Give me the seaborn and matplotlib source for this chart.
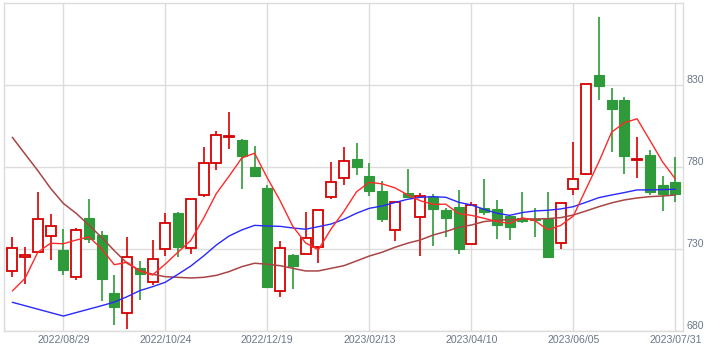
import numpy as np
import pandas as pd
import matplotlib
matplotlib.use("Agg")
import matplotlib.pyplot as plt
import seaborn as sns
from matplotlib.patches import Rectangle

# weekly candles, 2022/08/01 .. 2023/07/31
dates = pd.date_range("2022-08-01", periods=53, freq="7D")

opens = [716.6, 725.1, 728.2, 737.9, 729.6, 712.9, 749.1, 738.7, 703.4, 691.0,
         718.4, 709.9, 730.0, 752.2, 730.6, 762.9, 782.4, 798.5, 796.7, 780.0,
         767.4, 704.4, 726.5, 727.0, 731.4, 761.7, 773.3, 784.9, 774.7, 765.6,
         741.6, 764.3, 749.5, 762.1, 754.0, 755.8, 733.5, 755.0, 754.6, 750.3,
         748.9, 748.5, 748.3, 733.7, 766.6, 776.1, 836.1, 821.1, 821.1, 784.3,
         787.5, 769.2, 771.1]
highs = [737.3, 731.6, 764.8, 751.3, 742.2, 743.2, 760.5, 741.2, 714.3, 737.5,
         722.7, 735.5, 752.4, 752.5, 760.5, 792.6, 802.0, 813.5, 797.0, 793.0,
         769.0, 734.9, 727.0, 752.6, 754.0, 783.3, 792.2, 794.6, 782.4, 771.5,
         759.5, 778.8, 764.1, 763.5, 755.0, 766.2, 758.7, 772.7, 760.1, 750.5,
         764.8, 755.0, 764.8, 758.5, 795.2, 831.0, 871.5, 828.2, 823.1, 798.3,
         790.8, 774.5, 786.1]
lows = [712.9, 708.9, 727.5, 723.3, 714.1, 711.1, 733.7, 698.3, 683.7, 681.2,
        699.1, 708.0, 725.9, 725.1, 727.0, 762.0, 778.2, 791.0, 766.6, 774.3,
        707.0, 701.1, 706.0, 727.0, 721.5, 760.9, 769.2, 775.1, 762.7, 746.5,
        735.1, 762.0, 725.9, 732.0, 737.3, 727.0, 733.0, 750.9, 736.1, 735.5,
        746.3, 737.7, 725.5, 730.0, 762.9, 775.5, 821.1, 789.1, 775.7, 773.3,
        763.1, 753.2, 758.7]
closes = [730.6, 726.5, 748.3, 744.0, 717.6, 741.6, 736.5, 712.1, 695.0, 725.1,
          715.2, 723.9, 745.9, 731.6, 760.5, 782.4, 799.5, 798.9, 787.1, 774.9,
          707.2, 730.6, 720.0, 736.7, 753.8, 770.9, 783.7, 780.4, 765.8, 748.7,
          758.9, 762.1, 762.3, 754.8, 749.3, 730.4, 756.8, 753.0, 745.0, 743.8,
          747.5, 747.6, 725.5, 758.0, 772.7, 830.6, 829.8, 815.8, 787.1, 784.7,
          765.2, 763.9, 763.9]

# moving average lines
ma_short = [704.6, 712.3, 728.2, 733.7, 733.4, 735.6, 737.6, 730.4, 720.6, 722.1,
            716.8, 714.3, 721.0, 728.3, 735.4, 748.9, 764.0, 774.6, 785.7, 788.6,
            773.5, 759.7, 744.0, 733.9, 729.7, 742.4, 753.0, 765.1, 770.9, 769.9,
            767.5, 763.2, 759.6, 757.4, 757.5, 751.8, 750.7, 748.9, 746.9, 745.8,
            749.2, 747.4, 741.9, 744.5, 750.3, 766.9, 783.3, 801.4, 807.2, 809.6,
            796.5, 783.3, 772.9]
ma_mid = [697.7, 695.6, 693.5, 691.4, 689.3, 691.4, 693.5, 695.6, 697.8, 701.1,
          704.8, 707.2, 709.9, 714.8, 719.8, 725.9, 732.6, 738.1, 741.8, 744.6,
          744.2, 744.0, 743.0, 742.2, 743.8, 745.4, 748.3, 752.0, 755.0, 756.4,
          758.5, 760.5, 761.7, 762.1, 761.7, 758.7, 757.0, 754.4, 752.0, 750.7,
          752.4, 753.4, 753.8, 754.6, 756.0, 758.7, 761.5, 763.1, 764.6, 766.2,
          766.2, 766.4, 766.6]
ma_long = [798.3, 788.1, 778.0, 767.2, 758.0, 752.0, 744.8, 737.3, 729.2, 721.5,
           717.0, 714.8, 713.3, 712.9, 712.5, 712.9, 714.1, 716.4, 719.4, 721.5,
           720.9, 720.0, 718.4, 716.8, 716.8, 718.4, 720.0, 722.9, 725.9, 728.2,
           731.2, 733.7, 735.7, 738.7, 740.8, 743.4, 744.8, 746.9, 747.7, 748.1,
           748.5, 748.5, 748.7, 749.3, 750.9, 753.4, 756.0, 758.3, 760.1, 761.3,
           762.1, 762.5, 763.1]

tick_idx = [4, 12, 20, 28, 36, 44, 52]
y_ticks = [680, 730, 780, 830]

df = pd.DataFrame({"date": dates, "open": opens, "high": highs, "low": lows,
                   "close": closes, "ma5": ma_short, "ma_mid": ma_mid, "ma_long": ma_long})
df["pos"] = np.arange(len(df))

sns.set_style("white")
plt.rcParams['font.family'] = ['Liberation Sans', 'DejaVu Sans']

UP = "#d80000"
DOWN = "#2e9a3a"
GRID = "#dcdcdc"

fig = plt.figure(figsize=(7.2, 3.52), dpi=100)
ax = fig.add_axes([4 / 720, 1 - 331.3 / 352, 679 / 720, 328 / 352])

w = 0.78
for _, r in df.iterrows():
    up = r["close"] >= r["open"]
    col = UP if up else DOWN
    lo_b, hi_b = sorted([r["open"], r["close"]])
    ax.vlines(r["pos"], r["low"], lo_b, color=col, lw=1.2, zorder=3)
    ax.vlines(r["pos"], hi_b, r["high"], color=col, lw=1.2, zorder=3)
    h = max(hi_b - lo_b, 0.6)
    if up:
        ax.add_patch(Rectangle((r["pos"] - w / 2, lo_b), w, h, facecolor="white",
                               edgecolor=col, lw=1.3, zorder=4))
    else:
        ax.add_patch(Rectangle((r["pos"] - w / 2, lo_b), w, h, facecolor=col,
                               edgecolor=col, lw=0.8, zorder=4))

sns.lineplot(data=df, x="pos", y="ma_long", ax=ax, color="#a84545", lw=1.1, zorder=5)
sns.lineplot(data=df, x="pos", y="ma_mid", ax=ax, color="#2828ff", lw=1.0, zorder=5)
sns.lineplot(data=df, x="pos", y="ma5", ax=ax, color="#ff2a2a", lw=1.0, zorder=6)

ax.set_xlim(-0.65, 52.6)
ax.set_ylim(680, 880)
ax.set_xticks(tick_idx)
ax.set_xticklabels([dates[i].strftime("%Y/%m/%d") for i in tick_idx])
ax.set_yticks(y_ticks)
ax.yaxis.tick_right()
ax.tick_params(axis="both", length=0, labelsize=7.6, colors="#6a7888")
ax.tick_params(axis="y", pad=2.5)
for lbl in ax.get_yticklabels():
    lbl.set_verticalalignment("bottom")
ax.tick_params(axis="x", pad=3)
ax.grid(True, color=GRID, lw=1.0)
ax.set_axisbelow(True)
ax.set_xlabel("")
ax.set_ylabel("")
for s in ax.spines.values():
    s.set_color(GRID)
    s.set_linewidth(1.0)

fig.savefig("out.png", dpi=100, facecolor="white")
